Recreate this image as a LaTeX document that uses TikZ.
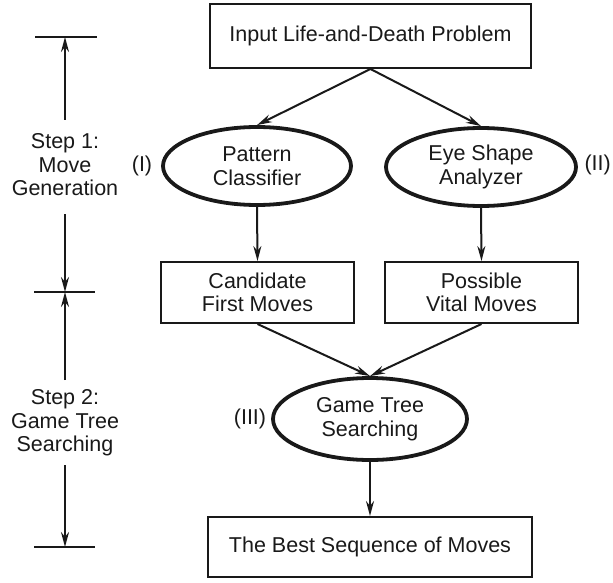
\documentclass[tikz,border=0pt]{standalone}
\usepackage{fontspec}
\setmainfont{Liberation Sans}
\usetikzlibrary{shapes.geometric,arrows.meta}
\definecolor{ink}{rgb}{0.1,0.1,0.1}
\tikzset{
  box/.style={draw=ink,line width=2pt,align=center,inner sep=0pt,text=ink},
  oval/.style={ellipse,draw=ink,line width=3.8pt,align=center,inner sep=0pt,text=ink},
  flow/.style={->,line width=2pt,draw=ink},
  tick/.style={line width=1.4pt,draw=ink},
  lab/.style={align=center,inner sep=0pt,text=ink}
}
\begin{document}
\begin{tikzpicture}[x=1pt,y=-1pt,>={Stealth[length=15pt,width=8pt]},font=\fontsize{21.5}{23.5}\selectfont]
\useasboundingbox (0,0) rectangle (613,583);
% flow chart
\node[box,minimum width=321pt,minimum height=64pt] (input) at (370.5,36) {Input Life-and-Death Problem};
\node[oval,minimum width=188pt,minimum height=78pt] (pattern) at (257,166) {Pattern\\Classifier};
\node[oval,minimum width=190pt,minimum height=78pt] (eye) at (481,167) {Eye Shape\\Analyzer};
\node[box,minimum width=193pt,minimum height=61pt] (cand) at (257.5,292.5) {Candidate\\First Moves};
\node[box,minimum width=193pt,minimum height=61pt] (vital) at (481.5,292.5) {Possible\\Vital Moves};
\node[oval,minimum width=194pt,minimum height=82pt] (game) at (370,419) {Game Tree\\Searching};
\node[box,minimum width=324pt,minimum height=60pt] (best) at (370,547) {The Best Sequence of Moves};
\node[lab] (one) at (142,166) {(I)};
\node[lab,anchor=east] (two) at (611,165) {(II)};
\node[lab] (three) at (250,419) {(III)};
\draw[flow] (input.south) -- (pattern.north);
\draw[flow] (input.south) -- (eye.north);
\draw[flow] (pattern.south) -- (cand.north);
\draw[flow] (eye.south) -- (vital.north);
\draw[flow] (cand.south) -- (game.north);
\draw[flow] (vital.south) -- (game.north);
\draw[flow] (game.south) -- (best.north);
% steps on the left
\node[lab] (step1) at (65,165) {Step 1:\\Move\\Generation};
\node[lab] (step2) at (65,423) {Step 2:\\Game Tree\\Searching};
\coordinate (t1) at (65,37);
\coordinate (t2) at (65,292);
\coordinate (t3) at (65,547);
\coordinate (a1) at (65,120);
\coordinate (a2) at (65,214);
\coordinate (a3) at (65,380);
\coordinate (a4) at (65,465);
\draw[tick] (35,37) -- (97,37);
\draw[tick] (34,292) -- (95,292);
\draw[tick] (34,547) -- (95,547);
\draw[flow] (a1) -- (t1);
\draw[flow] (a2) -- (t2);
\draw[flow] (a3) -- (t2);
\draw[flow] (a4) -- (t3);
\end{tikzpicture}
\end{document}
